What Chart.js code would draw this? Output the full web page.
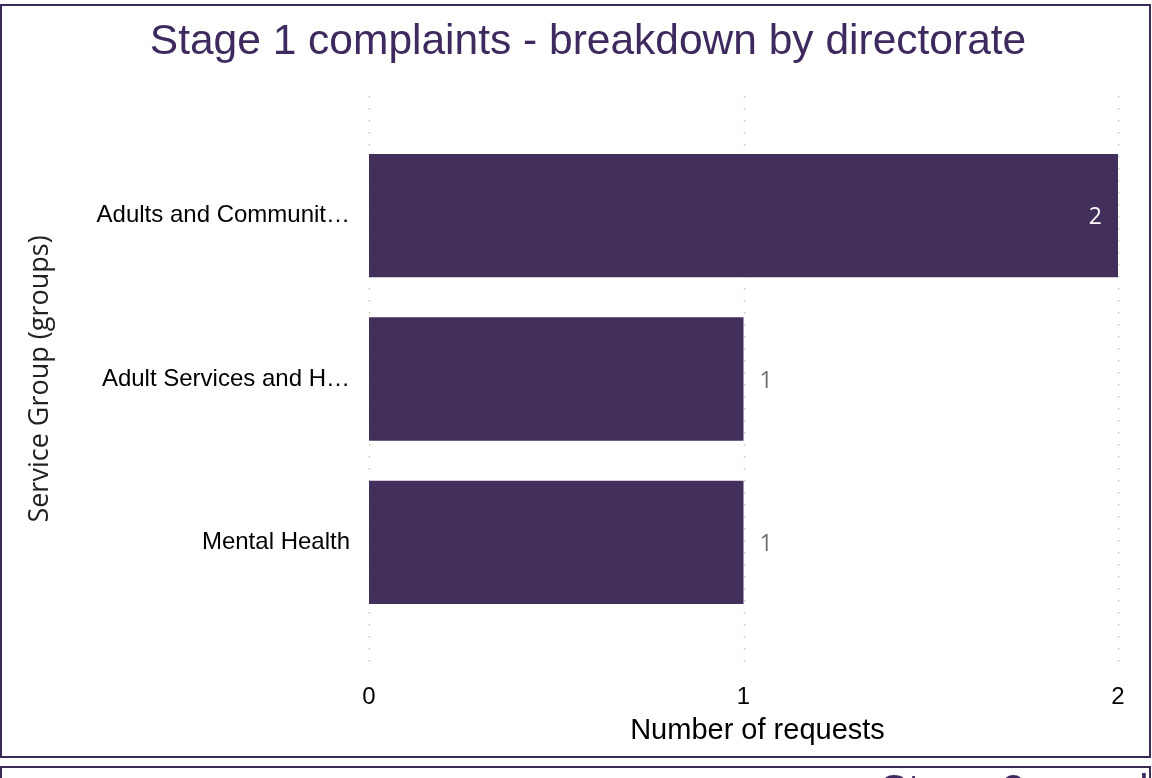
<!DOCTYPE html>
<html>
<head>
<meta charset="utf-8">
<script src="https://cdn.jsdelivr.net/npm/chart.js@4/dist/chart.umd.min.js"></script>
<style>
  html, body { margin: 0; padding: 0; background: #fff; overflow: hidden; }
  body { width: 1152px; height: 778px; position: relative; }
  #chartBox { position: absolute; left: 0; top: 0; width: 1152px; height: 757px; }
  .frame {
    position: absolute; box-sizing: border-box;
    border: 2px solid #3b2a55; pointer-events: none;
  }
  #frame1 { left: 0; top: 4px; width: 1151px; height: 754px; }
  #frame2 { left: 0; top: 766px; width: 1151px; height: 40px; overflow: hidden; }
  #nextTitle {
    position: absolute; left: 878px; top: 1px; white-space: nowrap;
    font: 42px/42px "Liberation Sans", Arial, sans-serif; color: #3e2a5e;
  }
</style>
</head>
<body>
<div id="chartBox"><canvas id="complaintsChart" width="1152" height="757"></canvas></div>
<div class="frame" id="frame1"></div>
<div class="frame" id="frame2"><div id="nextTitle">Stage 2 complaints</div></div>

<script>
  // Stage 1 complaints per service group
  const directorates = ['Adults and Communit…', 'Adult Services and H…', 'Mental Health'];
  const requestCounts = [2, 1, 1];
  const xTicks = [0, 1, 2];
  const xAxisTitle = 'Number of requests';

  const barColour = '#432f5b';
  const titleColour = '#3e2a5e';
  const arial = '"Liberation Sans", Arial, sans-serif';

  // dotted vertical gridlines, reaching a little past the bar bands
  const dottedGrid = {
    id: 'dottedGrid',
    beforeDatasetsDraw(chart) {
      const { ctx, chartArea, scales } = chart;
      ctx.save();
      ctx.strokeStyle = '#c8c8c8';
      ctx.lineWidth = 1.5;
      ctx.setLineDash([1.5, 10.5]);
      xTicks.forEach(t => {
        const x = Math.round(scales.x.getPixelForValue(t)) + 0.5;
        ctx.beginPath();
        ctx.moveTo(x, chartArea.top - 38);
        ctx.lineTo(x, chartArea.bottom + 42);
        ctx.stroke();
      });
      ctx.restore();
    }
  };

  // value labels: inside the end of the longest bar, outside the others
  const valueLabels = {
    id: 'valueLabels',
    afterDatasetsDraw(chart) {
      const { ctx } = chart;
      const maxVal = Math.max(...requestCounts);
      ctx.save();
      ctx.font = '23px "Open Sans", sans-serif';
      ctx.textBaseline = 'middle';
      chart.getDatasetMeta(0).data.forEach((bar, i) => {
        const v = requestCounts[i];
        if (v === maxVal) {
          ctx.fillStyle = '#ffffff';
          ctx.textAlign = 'right';
          ctx.fillText(String(v), bar.x - 16, bar.y + 2);
        } else {
          ctx.fillStyle = '#707070';
          ctx.textAlign = 'left';
          ctx.fillText(String(v), bar.x + 16, bar.y + 2);
        }
      });
      ctx.restore();
    }
  };

  // x axis title, sitting a touch right of the plot centre
  const xTitle = {
    id: 'xTitle',
    afterDraw(chart) {
      const { ctx, chartArea } = chart;
      ctx.save();
      ctx.font = '29px ' + arial;
      ctx.fillStyle = '#000';
      ctx.textAlign = 'center';
      ctx.textBaseline = 'middle';
      ctx.fillText(xAxisTitle, (chartArea.left + chartArea.right) / 2 + 14, 731);
      ctx.restore();
    }
  };

  new Chart(document.getElementById('complaintsChart'), {
    type: 'bar',
    data: {
      labels: directorates,
      datasets: [{
        label: 'Number of requests',
        data: requestCounts,
        backgroundColor: barColour,
        borderWidth: 0,
        categoryPercentage: 1,
        barPercentage: 0.755
      }]
    },
    options: {
      indexAxis: 'y',
      responsive: false,
      animation: false,
      layout: { padding: { left: 24, right: 0, top: 0, bottom: 0 } },
      plugins: {
        legend: { display: false },
        tooltip: { enabled: false },
        title: {
          display: true,
          text: 'Stage 1 complaints - breakdown by directorate',
          color: titleColour,
          font: { family: arial, size: 42.5, weight: 'normal' },
          padding: { top: 17, bottom: 66 }
        }
      },
      scales: {
        x: {
          type: 'linear',
          min: 0,
          max: 2,
          afterBuildTicks: s => { s.ticks = xTicks.map(v => ({ value: v })); },
          grid: { display: false, drawTicks: true, tickLength: 56 },
          border: { display: false },
          ticks: {
            color: '#000',
            padding: 3,
            font: { family: arial, size: 24 }
          },
          afterFit: s => { s.height = 133; s.paddingRight = 34; }
        },
        y: {
          grid: { display: false },
          border: { display: false },
          ticks: {
            color: '#000',
            padding: 11,
            font: { family: arial, size: 24 }
          },
          title: {
            display: true,
            text: 'Service Group (groups)',
            color: '#222',
            font: { family: '"Open Sans", sans-serif', size: 27, lineHeight: 1 },
            padding: { top: 3, bottom: 0 }
          },
          afterFit: s => { s.width = 345; }
        }
      }
    },
    plugins: [dottedGrid, valueLabels, xTitle]
  });
</script>
</body>
</html>
